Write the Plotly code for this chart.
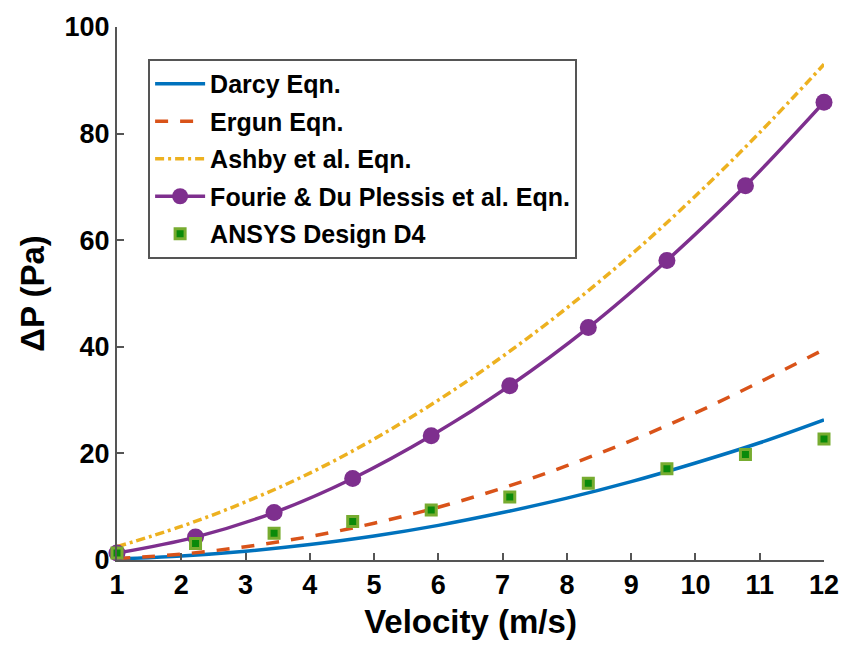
import plotly.graph_objects as go

# Curve sample velocities (m/s)
v_curve = [1, 2, 3, 4, 5, 6, 7, 8, 9, 10, 11, 12]
darcy = [0.2, 0.75, 1.65, 2.9, 4.5, 6.5, 8.9, 11.6, 14.7, 18.2, 22.0, 26.3]
ergun = [0.3, 1.1, 2.5, 4.4, 6.9, 9.9, 13.5, 17.7, 22.4, 27.6, 33.4, 39.5]
ashby = [2.5, 6.3, 10.9, 16.3, 22.7, 30.0, 38.2, 47.3, 57.3, 68.3, 80.2, 93.0]

# Discrete velocities (m/s)
v_pts = [1, 2.222, 3.444, 4.667, 5.889, 7.111, 8.333, 9.556, 10.778, 12]
fourie = [1.3, 4.3, 8.9, 15.3, 23.3, 32.7, 43.6, 56.2, 70.2, 85.9]
ansys = [1.3, 3.1, 5.0, 7.2, 9.4, 11.8, 14.4, 17.1, 19.8, 22.7]

x_ticks = list(range(1, 13))
y_ticks = [0, 20, 40, 60, 80, 100]

FONT = "Arial, Liberation Sans, sans-serif"

fig = go.Figure()
fig.add_trace(go.Scatter(x=v_curve, y=darcy, mode="lines", name="Darcy Eqn.",
                         line=dict(color="#0072BD", width=3.5, shape="spline"),
                         legendgroup="a"))
fig.add_trace(go.Scatter(x=v_curve, y=ergun, mode="lines", name="Ergun Eqn.",
                         line=dict(color="#D95319", width=3.5, shape="spline", dash="13px,12px"),
                         legendgroup="b"))
fig.add_trace(go.Scatter(x=v_curve, y=ashby, mode="lines", name="Ashby et al. Eqn.",
                         line=dict(color="#EDB120", width=3.5, shape="spline", dash="9px,4px,3px,4px"),
                         legendgroup="c"))
fig.add_trace(go.Scatter(x=v_pts, y=fourie, mode="lines+markers",
                         name="Fourie & Du Plessis et al. Eqn.",
                         line=dict(color="#7E2F8E", width=3.5, shape="spline"),
                         marker=dict(symbol="circle", size=17, color="#7E2F8E"),
                         cliponaxis=False, legendgroup="d"))
fig.add_trace(go.Scatter(x=v_pts, y=ansys, mode="markers", name="ANSYS Design D4",
                         marker=dict(symbol="square", size=10, color="#0A8A0A",
                                     line=dict(color="#77AC30", width=3)),
                         cliponaxis=False, legendgroup="e"))

axis_common = dict(
    showline=True, linecolor="#555555", linewidth=2,
    ticks="inside", ticklen=7, tickcolor="#555555", tickwidth=1.5,
    showgrid=False, zeroline=False, mirror=False,
    tickfont=dict(family=FONT, size=27, color="black", weight="bold"),
)

fig.update_layout(
    width=851, height=662,
    margin=dict(l=117, r=21, t=19, b=102),
    paper_bgcolor="white", plot_bgcolor="white",
    font=dict(family=FONT, color="black"),
    xaxis=dict(range=[1, 12], tickvals=x_ticks,
               title=dict(text="Velocity (m/s)",
                          font=dict(family=FONT, size=33, weight="bold"), standoff=10),
               **axis_common),
    yaxis=dict(range=[0, 100], tickvals=y_ticks,
               title=dict(text="ΔP (Pa)",
                          font=dict(family=FONT, size=33, weight="bold"), standoff=10),
               **axis_common),
    legend=dict(x=0.044, y=0.94, xanchor="left", yanchor="top",
                bordercolor="#555555", borderwidth=2, bgcolor="white",
                font=dict(family=FONT, size=25, color="black", weight="bold"),
                tracegroupgap=2, itemwidth=50),
    showlegend=True,
)

fig.write_html("out.html")
